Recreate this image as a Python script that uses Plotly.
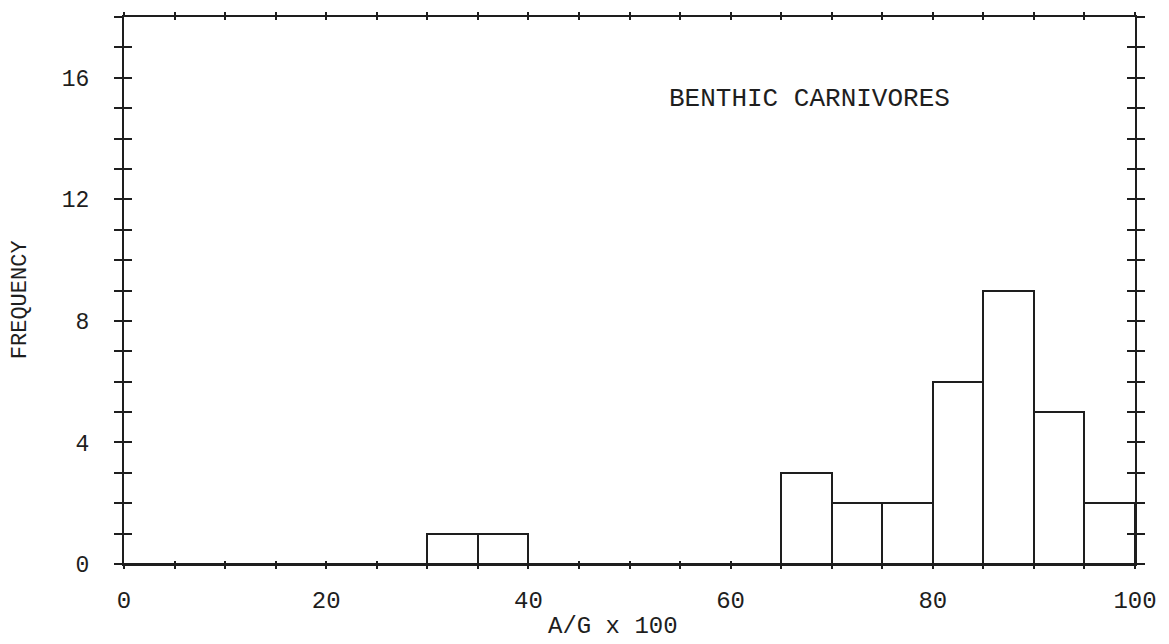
import plotly.graph_objects as go

# Histogram of A/G x 100 for benthic carnivores (bin width 5)
bin_left = [0, 5, 10, 15, 20, 25, 30, 35, 40, 45, 50, 55, 60, 65, 70, 75, 80, 85, 90, 95]
counts = [0, 0, 0, 0, 0, 0, 1, 1, 0, 0, 0, 0, 0, 3, 2, 2, 6, 9, 5, 2]
bin_width = 5

x_tick_vals = list(range(0, 101, 5))
x_tick_text = [str(v) if v % 20 == 0 else "" for v in x_tick_vals]
y_tick_vals = list(range(0, 19))
y_tick_text = [str(v) if v % 4 == 0 and v <= 16 else "" for v in y_tick_vals]

ink = "#1e1e1e"
font_family = "Liberation Mono, Courier New, monospace"

# Plot-area margins in pixels
M_L, M_R, M_T, M_B = 124, 32, 17, 80
W, H = 1169, 644
plot_w = W - M_L - M_R
plot_h = H - M_T - M_B


def px_to_paper(px, py):
    """Convert page pixel coordinates to plot-relative paper fractions."""
    return (px - M_L) / plot_w, (H - py - M_B) / plot_h


fig = go.Figure()
fig.add_trace(go.Bar(
    x=[b + bin_width / 2 for b in bin_left],
    y=counts,
    width=bin_width,
    marker=dict(color="white", line=dict(color=ink, width=2)),
    showlegend=False,
    hoverinfo="skip",
))
# Invisible trace so the overlay axes (inner tick halves) are drawn
fig.add_trace(go.Scatter(x=[0], y=[0], xaxis="x2", yaxis="y2",
                         mode="markers", marker=dict(opacity=0),
                         showlegend=False, hoverinfo="skip"))

common_axis = dict(showgrid=False, zeroline=False, showline=True,
                   linecolor=ink, linewidth=2, tickcolor=ink,
                   tickwidth=2, mirror="ticks")

xt_x, xt_y = px_to_paper(614, 627)
yt_x, yt_y = px_to_paper(20, 300)

fig.update_layout(
    width=W, height=H,
    margin=dict(l=M_L, r=M_R, t=M_T, b=M_B),
    paper_bgcolor="white", plot_bgcolor="white",
    font=dict(family=font_family, color=ink, size=22),
    bargap=0,
    xaxis=dict(range=[0, 100], tickvals=x_tick_vals, ticktext=x_tick_text,
               ticks="outside", ticklen=3, ticklabelstandoff=10,
               tickfont=dict(size=24), **common_axis),
    yaxis=dict(range=[0, 18], tickvals=y_tick_vals, ticktext=y_tick_text,
               ticks="outside", ticklen=8, ticklabelstandoff=20,
               tickfont=dict(size=23), **common_axis),
    xaxis2=dict(range=[0, 100], overlaying="x", tickvals=x_tick_vals,
                ticks="inside", ticklen=3, showticklabels=False,
                **common_axis),
    yaxis2=dict(range=[0, 18], overlaying="y", tickvals=y_tick_vals,
                ticks="inside", ticklen=8, showticklabels=False,
                **common_axis),
    annotations=[
        dict(text="BENTHIC CARNIVORES", x=53.7, y=15.3,
             xref="x", yref="y", xanchor="left", yanchor="middle",
             showarrow=False, font=dict(size=26)),
        dict(text="A/G x 100", x=xt_x, y=xt_y,
             xref="paper", yref="paper", xanchor="center", yanchor="middle",
             showarrow=False, font=dict(size=24)),
        dict(text="FREQUENCY", x=yt_x, y=yt_y, textangle=-90,
             xref="paper", yref="paper", xanchor="center", yanchor="middle",
             showarrow=False, font=dict(size=22)),
    ],
)

fig.write_html("out.html")
